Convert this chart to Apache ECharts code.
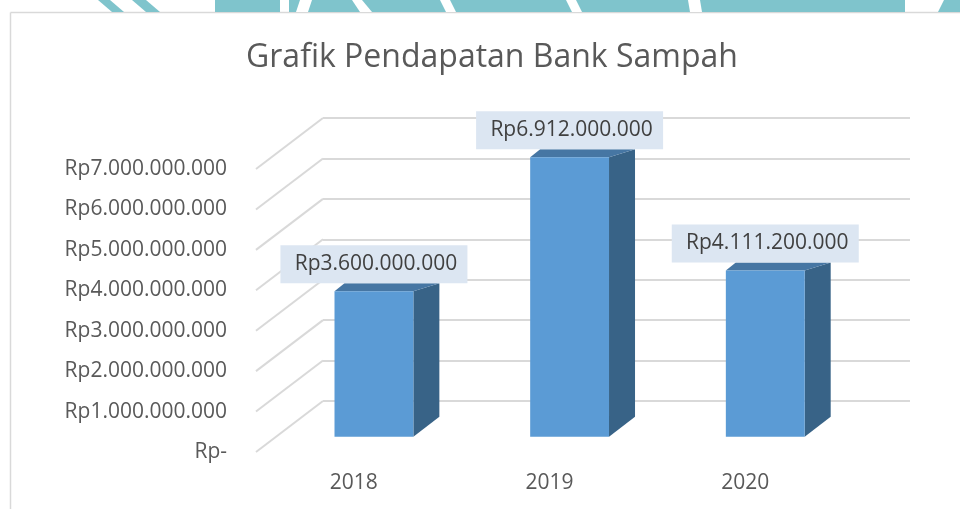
<!DOCTYPE html>
<html lang="id">
<head>
    <meta charset="UTF-8">
    <title>Grafik Pendapatan Bank Sampah</title>
    <script src="https://cdn.jsdelivr.net/npm/echarts@6/dist/echarts.min.js"></script>
</head>
<style>
    html, body { margin: 0; padding: 0; background: #fff; }
    #main { width: 960px; height: 509px; }
</style>
<body>
<div id="main"></div>
<script>
    // data
    var years = ['2018', '2019', '2020'];
    var pendapatan = [3600000000, 6912000000, 4111200000];
    var yTicks = [0, 1e9, 2e9, 3e9, 4e9, 5e9, 6e9, 7e9];

    // fake 3d: depth of the floor, in px (front edge -> back wall)
    var DEPTH_X = 67, DEPTH_Y = -51;
    var BAR_FRONT = 0.3;     // bar front face sits 30% into the depth
    var FONT = '"Open Sans", "Noto Sans", sans-serif';
    var GRID_COLOR = '#d9d9d9';
    var TEAL = '#7fc4cc';

    function rupiah(v) {
        if (v === 0) return 'Rp-';
        return 'Rp' + String(v).replace(/\B(?=(\d{3})+(?!\d))/g, '.');
    }

    var myChart = echarts.init(document.getElementById('main'));

    function renderFloorLine(params, api) {
        var p = api.coord([0, api.value(1)]);
        var x = params.coordSys.x;
        return {
            type: 'line',
            shape: { x1: x, y1: p[1], x2: x + DEPTH_X, y2: p[1] + DEPTH_Y },
            style: { stroke: GRID_COLOR, lineWidth: 2 },
            silent: true
        };
    }

    function renderBar(params, api) {
        var cat = api.value(0), val = api.value(1);
        var base = api.coord([cat, 0]);
        var top = api.coord([cat, val]);
        var w = api.size([1, 0])[0] * 0.403;
        var ox = DEPTH_X * BAR_FRONT, oy = DEPTH_Y * BAR_FRONT;
        var x0 = base[0] + ox - w / 2, x1 = x0 + w;
        var yb = base[1] + oy, yt = top[1] + oy;
        var sdx = 26, sdyBottom = -20, sdyTop = -8;
        var boxW = 187, boxH = 38;
        var cx = (x0 + x1) / 2;
        return {
            type: 'group',
            children: [
                {
                    type: 'polygon',
                    shape: { points: [[x1, yt], [x1 + sdx, yt + sdyTop], [x1 + sdx, yb + sdyBottom], [x1, yb]] },
                    style: { fill: '#386387' }
                },
                {
                    type: 'polygon',
                    shape: { points: [[x0, yt], [x1, yt], [x1 + sdx, yt + sdyTop], [x0 + 10, yt + sdyTop]] },
                    style: { fill: '#4676a3' }
                },
                {
                    type: 'rect',
                    shape: { x: x0, y: yt, width: w, height: yb - yt },
                    style: { fill: '#5b9bd5' }
                },
                {
                    type: 'rect',
                    shape: { x: cx - boxW / 2, y: yt + sdyTop - boxH, width: boxW, height: boxH },
                    style: { fill: '#dce6f2' }
                },
                {
                    type: 'text',
                    x: cx + 2,
                    y: yt + sdyTop - boxH / 2,
                    style: {
                        text: rupiah(val),
                        font: '21px ' + FONT,
                        fill: '#404040',
                        align: 'center',
                        verticalAlign: 'middle'
                    }
                }
            ]
        };
    }

    var option = {
        animation: false,
        backgroundColor: '#fff',
        title: {
            text: 'Grafik Pendapatan Bank Sampah',
            left: 241,
            top: 37,
            textStyle: { fontFamily: FONT, fontSize: 32, fontWeight: 'normal', color: '#595959' }
        },
        graphic: [
            // chart frame
            { type: 'line', shape: { x1: 10.5, y1: 12.5, x2: 960, y2: 12.5 }, style: { stroke: '#d9d9d9', lineWidth: 1.5 } },
            { type: 'line', shape: { x1: 10.5, y1: 12.5, x2: 10.5, y2: 509 }, style: { stroke: '#d9d9d9', lineWidth: 1.5 } },
            // watermark remnants above the frame
            { type: 'polygon', shape: { points: [[98, 0], [110, 0], [124, 12], [112, 12]] }, style: { fill: TEAL } },
            { type: 'polygon', shape: { points: [[132, 0], [146, 0], [160, 12], [146, 12]] }, style: { fill: TEAL } },
            { type: 'rect', shape: { x: 215, y: 0, width: 65, height: 12 }, style: { fill: TEAL } },
            { type: 'rect', shape: { x: 289, y: 0, width: 616, height: 12 }, style: { fill: TEAL } },
            { type: 'polygon', shape: { points: [[300, 0], [312, 0], [308, 12], [296, 12]] }, style: { fill: '#fff' } },
            { type: 'polygon', shape: { points: [[352, 0], [362, 0], [372, 12], [360, 12]] }, style: { fill: '#fff' } },
            { type: 'polygon', shape: { points: [[440, 0], [450, 0], [456, 12], [446, 12]] }, style: { fill: '#fff' } },
            { type: 'polygon', shape: { points: [[566, 0], [576, 0], [582, 12], [572, 12]] }, style: { fill: '#fff' } },
            { type: 'polygon', shape: { points: [[688, 0], [700, 0], [702, 12], [690, 12]] }, style: { fill: '#fff' } },
            { type: 'polygon', shape: { points: [[944, 0], [960, 0], [960, 12], [938, 12]] }, style: { fill: TEAL } }
        ],
        grid: [
            // back wall
            { left: 323, top: 118, width: 587, height: 283 },
            // front edge of the floor
            { left: 256, top: 169, width: 587, height: 283 }
        ],
        xAxis: [
            { gridIndex: 0, type: 'category', data: years, show: false },
            {
                gridIndex: 1, type: 'category', data: years,
                axisLine: { show: false }, axisTick: { show: false },
                axisLabel: { interval: 0, margin: 21, color: '#595959', fontFamily: FONT, fontSize: 21 }
            }
        ],
        yAxis: [
            {
                gridIndex: 0, type: 'value', min: 0, max: 7e9, interval: 1e9,
                axisLine: { show: false }, axisTick: { show: false }, axisLabel: { show: false },
                splitLine: { lineStyle: { color: GRID_COLOR, width: 2 } }
            },
            {
                gridIndex: 1, type: 'value', min: 0, max: 7e9, interval: 1e9,
                axisLine: { show: false }, axisTick: { show: false }, splitLine: { show: false },
                axisLabel: { margin: 29, color: '#595959', fontFamily: FONT, fontSize: 21, formatter: rupiah }
            }
        ],
        series: [
            {
                type: 'custom',
                xAxisIndex: 1, yAxisIndex: 1,
                renderItem: renderFloorLine,
                data: yTicks.map(function (v) { return [0, v]; }),
                silent: true,
                z: 1
            },
            {
                type: 'custom',
                xAxisIndex: 1, yAxisIndex: 1,
                renderItem: renderBar,
                data: pendapatan.map(function (v, i) { return [i, v]; }),
                z: 5
            }
        ]
    };
    myChart.setOption(option);
</script>
</body>
</html>
